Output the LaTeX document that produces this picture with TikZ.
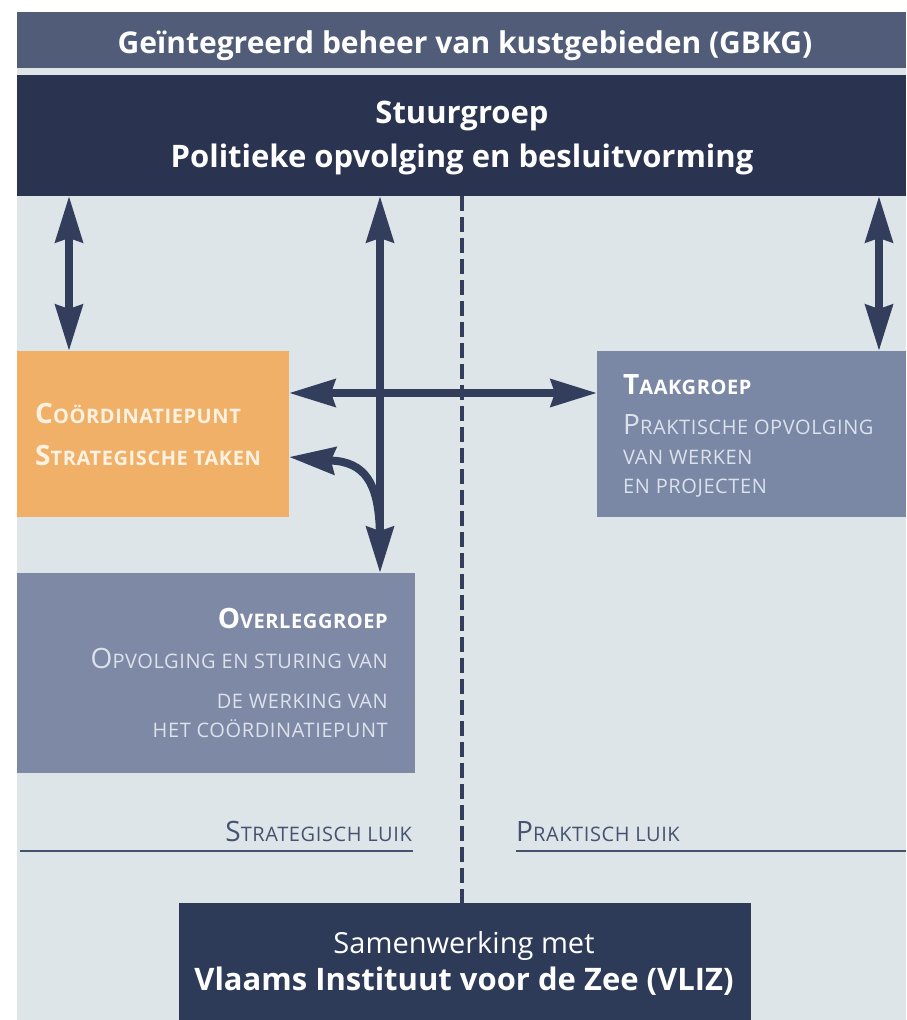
\documentclass[tikz,border=0pt]{standalone}
\usepackage{fontspec}
\setmainfont{Open Sans}
\newfontfamily\scfont[LetterSpace=3]{Open Sans}
\usetikzlibrary{arrows.meta}
\definecolor{bgc}{RGB}{221,229,233}
\definecolor{hdrc}{RGB}{80,92,120}
\definecolor{navyc}{RGB}{42,52,80}
\definecolor{orngc}{RGB}{240,176,104}
\definecolor{creamc}{RGB}{253,242,226}
\definecolor{taakc}{RGB}{122,136,166}
\definecolor{ovlc}{RGB}{126,137,165}
\definecolor{arrc}{RGB}{50,62,92}
\definecolor{lblc}{RGB}{70,82,112}
\definecolor{vlizc}{RGB}{45,58,88}
\definecolor{palec}{RGB}{220,226,236}
\newcommand\Cbig{\fontsize{28}{28}\selectfont}
\newcommand\Csml{\fontsize{20}{20}\selectfont}
\begin{document}
\begin{tikzpicture}[x=1pt,y=-1pt,
  box/.style={draw=none, inner sep=0pt, outer sep=0pt, anchor=north west},
  dbl/.style={draw=arrc, line width=8pt,
    {Stealth[length=46pt,width=27pt,inset=4pt]}-{Stealth[length=46pt,width=27pt,inset=4pt]}},
  sgl/.style={draw=arrc, line width=8pt, -{Stealth[length=46pt,width=27pt,inset=4pt]}},
  divider/.style={draw=arrc, line width=4pt, dash pattern=on 15pt off 6pt},
  ttl/.style={inner sep=0pt, text=white, font=\fontsize{31}{31}\selectfont\bfseries},
  sct/.style={inner sep=0pt, font=\scfont},
]
\useasboundingbox (0,0) rectangle (906,1020);
\fill[white] (0,0) rectangle (906,1020);
\fill[bgc] (17,12) rectangle (906,1020);
% boxes
\node[box, fill=hdrc, minimum width=889pt, minimum height=56pt] (hdr) at (17,12) {};
\node[box, fill=navyc, minimum width=889pt, minimum height=121pt] (stuur) at (17,75) {};
\node[box, fill=orngc, minimum width=272pt, minimum height=166pt] (coord) at (17,351) {};
\node[box, fill=taakc, minimum width=309pt, minimum height=166pt] (taak) at (597,351) {};
\node[box, fill=ovlc, minimum width=398pt, minimum height=200pt] (ovl) at (17,573) {};
\node[box, fill=vlizc, minimum width=572pt, minimum height=117pt] (vliz) at (179,903) {};
% divider
\draw[divider] (stuur.south) -- (stuur.south |- vliz.north);
% arrows
\draw[dbl] ([xshift=52pt]coord.north west) -- ([xshift=52pt]coord.north west |- stuur.south);
\draw[dbl] ([xshift=282pt]taak.north west) -- ([xshift=282pt]taak.north west |- stuur.south);
\draw[dbl] ([xshift=363pt]ovl.north west) -- ([xshift=363pt]ovl.north west |- stuur.south);
\draw[dbl] ([yshift=41pt]coord.east) -- ([yshift=41pt]coord.east -| taak.west);
\coordinate (cj) at (380,540);
\draw[sgl] (cj) .. controls (380,488) and (368,465) .. (337,461) -- ([yshift=-23pt]coord.east);
% titles
\node[ttl, anchor=base, font=\fontsize{30}{30}\selectfont\bfseries] (thdr) at (465,53) {Geïntegreerd beheer van kustgebieden (GBKG)};
\node[ttl, anchor=base] (tst1) at (462,123) {Stuurgroep};
\node[ttl, anchor=base] (tst2) at (462,167) {Politieke opvolging en besluitvorming};
\node[ttl, anchor=base, font=\fontsize{29}{29}\selectfont] (tv1) at (464,953) {Samenwerking met};
\node[ttl, anchor=base] (tv2) at (464,990) {Vlaams Instituut voor de Zee (VLIZ)};
% coordinatiepunt
\node[sct, anchor=base west, text=creamc, font=\scfont\bfseries] (tc1) at (35,423) {{\Cbig C}{\Csml OÖRDINATIEPUNT}};
\node[sct, anchor=base west, text=creamc, font=\scfont\bfseries] (tc2) at (35,465) {{\Cbig S}{\Csml TRATEGISCHE TAKEN}};
% taakgroep
\node[sct, anchor=base west, text=white, font=\scfont\bfseries] (tt1) at (623,394) {{\Cbig T}{\Csml AAKGROEP}};
\node[sct, anchor=base west, text=palec] (tt2) at (623,434) {{\Cbig P}{\Csml RAKTISCHE OPVOLGING}};
\node[sct, anchor=base west, text=palec] (tt3) at (623,464) {{\Csml VAN WERKEN}};
\node[sct, anchor=base west, text=palec] (tt4) at (623,493) {{\Csml EN PROJECTEN}};
% overleggroep
\node[sct, anchor=base east, text=white, font=\scfont\bfseries] (to1) at (388,628) {{\Cbig O}{\Csml VERLEGGROEP}};
\node[sct, anchor=base east, text=palec] (to2) at (388,668) {{\Cbig O}{\Csml PVOLGING EN STURING VAN}};
\node[sct, anchor=base east, text=palec] (to3) at (388,708) {{\Csml DE WERKING VAN}};
\node[sct, anchor=base east, text=palec] (to4) at (388,737) {{\Csml HET COÖRDINATIEPUNT}};
% luik labels
\node[sct, anchor=base east, text=lblc] (ls) at (412,841) {{\Cbig S}{\Csml TRATEGISCH LUIK}};
\node[sct, anchor=base west, text=lblc] (lp) at (516,841) {{\Cbig P}{\Csml RAKTISCH LUIK}};
\draw[lblc, line width=2pt] (20,851) -- (413,851);
\draw[lblc, line width=2pt] (516,851) -- (906,851);
\end{tikzpicture}
\end{document}
